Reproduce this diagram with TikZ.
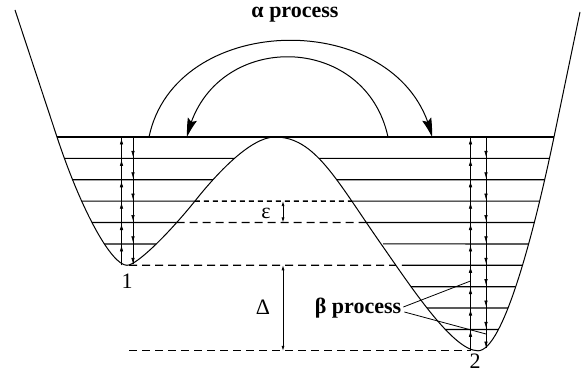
\documentclass[tikz,border=0pt]{standalone}
\usepackage{fontspec}
\setmainfont{Liberation Serif}
\usetikzlibrary{arrows.meta,bending,intersections}

\begin{document}
\begin{tikzpicture}[x=1pt, y=-1pt,
        pot/.style={line width=1pt},
        lvl/.style={line width=1.2pt},
        lvldash/.style={line width=1.3pt, dash pattern=on 8pt off 5pt},
        thin/.style={line width=0.6pt},
        hop/.style={line width=0.6pt, -{Latex[length=6pt,width=3.5pt]}, shorten >=1.5pt},
        jump/.style={line width=1pt, -{Stealth[length=19pt,width=9.5pt,inset=3pt,bend]}},
        gap/.style={line width=0.7pt, {Latex[length=5pt,width=3pt]}-{Latex[length=5pt,width=3pt]}},
        txt/.style={inner sep=0pt, font=\fontsize{22}{26}\selectfont},
        btxt/.style={inner sep=0pt, font=\fontsize{22}{26}\selectfont\bfseries}
    ]
    \useasboundingbox (0,0) rectangle (584,374);

    % double well
    \draw[pot, name path=well] (15,10) -- (57,137)
        .. controls (82.1,212.9) and (112,265.3) .. (127,265.3)
        .. controls (137,265.3) and (170,232.25) .. (196.2,199.5)
        .. controls (215,176) and (250,137) .. (275,137)
        .. controls (315,137) and (336,179.55) .. (382,245.3)
        .. controls (411,286.8) and (453,350.8) .. (478,350.8)
        .. controls (503,350.8) and (533.6,234.9) .. (554,137) -- (580,12);

    % where the levels meet the well
    \foreach \k in {1,...,5} {
        \path[name path=hl] (0,{137+21.38*\k}) -- (584,{137+21.38*\k});
        \path[name intersections={of=well and hl, sort by=hl, name=L\k}];
    }
    \foreach \k in {6,...,9} {
        \path[name path=hl] (200,{137+21.38*\k}) -- (584,{137+21.38*\k});
        \path[name intersections={of=well and hl, sort by=hl, name=L\k}];
    }

    % levels
    \draw[lvl] (57,137) -- (554,137);
    \draw[lvl] (L1-1) -- (L1-2);  \draw[lvl] (L1-3) -- (L1-4);
    \draw[lvl] (L2-1) -- (L2-2);  \draw[lvl] (L2-3) -- (L2-4);
    \draw[lvl] (L3-1) -- (L3-2);  \draw[lvl] (L3-3) -- (L3-4);
    \draw[lvl] (L4-1) -- (L4-2);  \draw[lvl] (L4-3) -- (L4-4);
    \draw[lvl] (L5-1) -- (L5-2);  \draw[lvl] ([xshift=2pt]L5-3) -- (L5-4);
    \draw[lvl] ([xshift=6pt]L6-1) -- (L6-2);
    \draw[lvl] (L7-1) -- (L7-2);
    \draw[lvl] (L8-1) -- (L8-2);
    \draw[lvl] (L9-1) -- (L9-2);

    % dashed reference levels
    \draw[lvldash, dash pattern=on 5pt off 4pt] (L3-2) -- (L3-3);
    \draw[lvldash] (L4-2) -- (L4-3);
    \draw[lvldash] (129,265.3) -- (L6-1);
    \draw[lvldash] (129,350.8) -- (471,350.8);

    % alpha jumps over the barrier
    \draw[jump] (149,137) .. controls (176,8) and (405,8) .. (432,137);
    \draw[jump] (388,137) .. controls (365,30) and (210,30) .. (187,137);

    % ladders in the wells
    \draw[thin] (121.5,265) -- (121.5,137);
    \draw[thin] (133,137) -- (133,264.5);
    \draw[thin] (470.5,350.3) -- (470.5,137);
    \draw[thin] (486,137) -- (486,347.5);
    \foreach \k in {0,...,5} {
        \draw[hop] (121.5,{137+21.38*(\k+1)}) -- (121.5,{137+21.38*\k});
        \draw[hop] (133,{137+21.38*\k}) -- (133,{137+21.38*(\k+1)});
    }
    \foreach \k in {0,...,9} {
        \draw[hop] (470.5,{137+21.38*(\k+1)}) -- (470.5,{137+21.38*\k});
        \draw[hop] (486,{137+21.38*\k}) -- (486,{min(137+21.38*(\k+1),349)});
    }

    % gaps
    \coordinate (eTop) at (283,201.1);
    \coordinate (eBot) at (283,222.5);
    \coordinate (dTop) at (283,265.3);
    \coordinate (dBot) at (283,350.8);
    \draw[gap] (eTop) -- (eBot);
    \draw[gap] (dTop) -- (dBot);

    % labels
    \node[btxt] (alpha) at (295,15) {α process};
    \node[txt] (eps) at (266,213) {ε};
    \node[txt] (delta) at (263,307) {Δ};
    \node[btxt] (beta) at (358,308) {β process};
    \node[txt] (min1) at (127,281) {1};
    \node[txt] (min2) at (475,361) {2};

    \coordinate (up2) at (470.5,281);
    \coordinate (down2) at (486,334);
    \draw[line width=0.8pt] ([xshift=2pt,yshift=1pt]beta.east) -- (up2);
    \draw[line width=0.8pt] ([xshift=3pt,yshift=-4pt]beta.east) -- (down2);
\end{tikzpicture}
\end{document}
